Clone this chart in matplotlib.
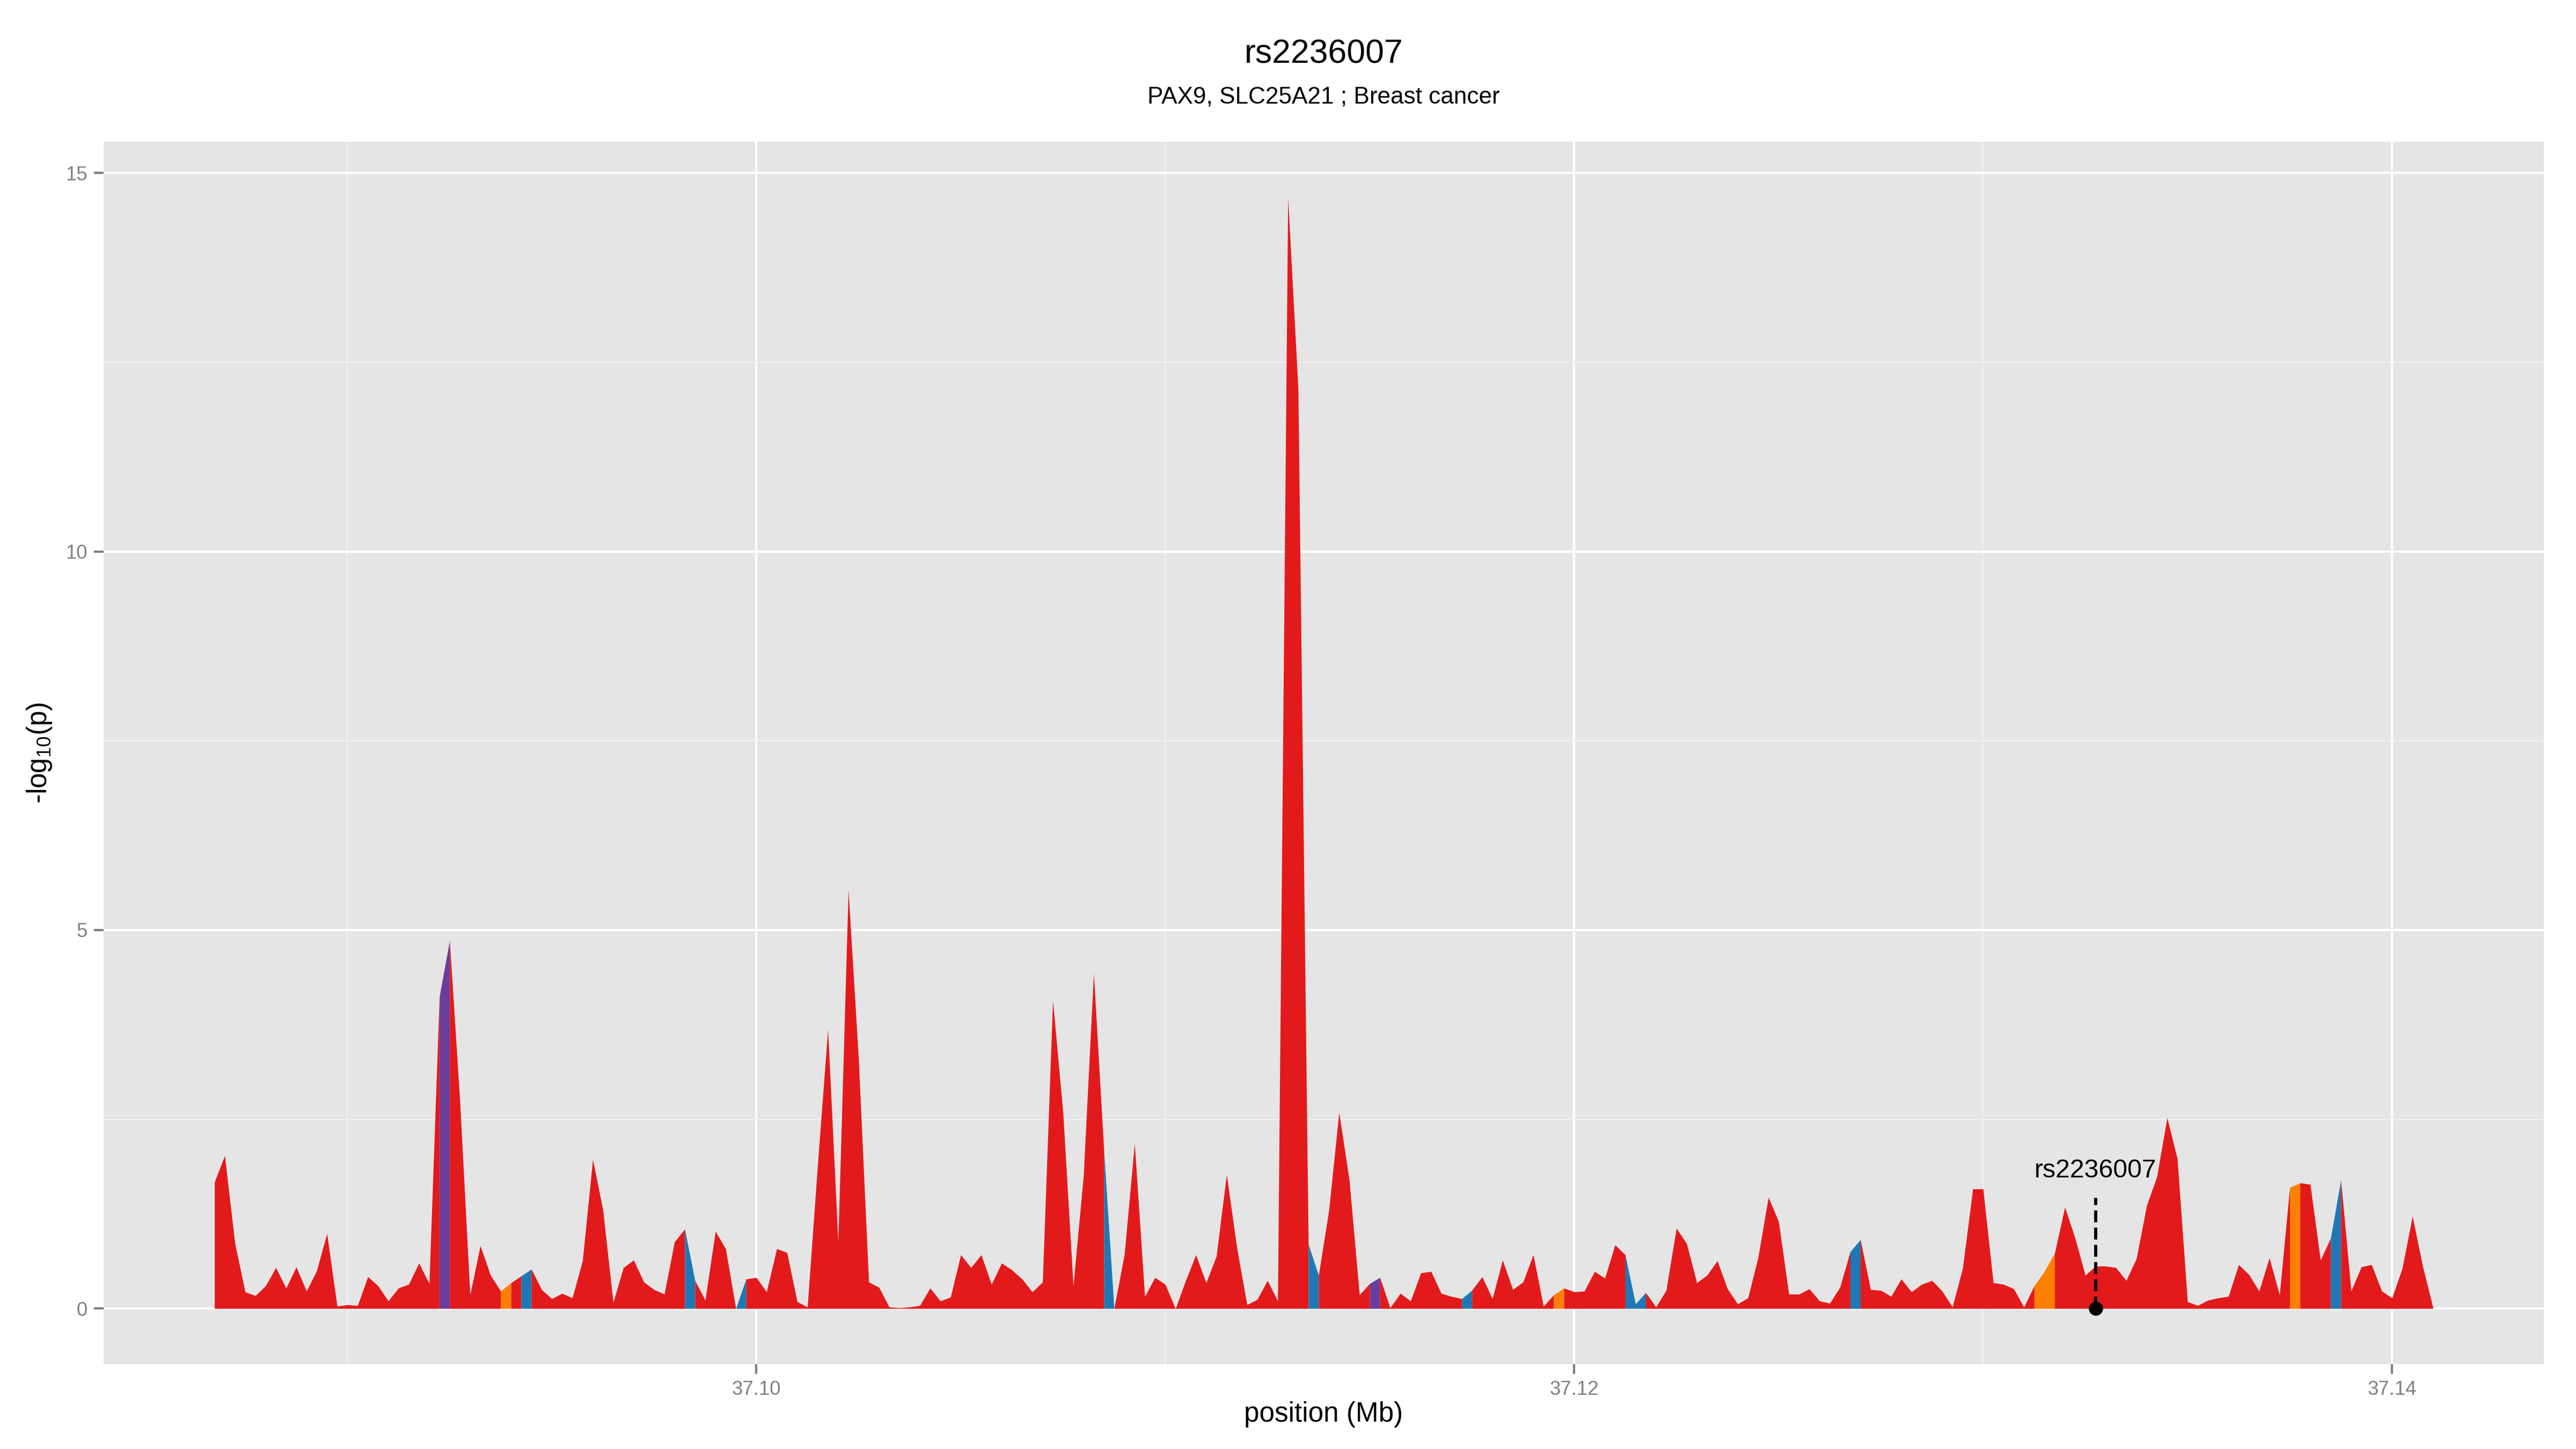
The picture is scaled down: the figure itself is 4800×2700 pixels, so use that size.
import numpy as np
import matplotlib.pyplot as plt
from matplotlib.ticker import FixedLocator

plt.rcParams['font.family'] = ['Liberation Sans', 'DejaVu Sans']
plt.rcParams['mathtext.default'] = 'regular'

# SNP grid (Mb): first position and spacing
pos_start = 37.08675
pos_step = 0.00025

# -log10(p) for each grid position
neglogp = [
    1.67, 2.02, 0.86, 0.22, 0.17, 0.30, 0.54, 0.27, 0.55, 0.23,
    0.50, 0.99, 0.03, 0.05, 0.04, 0.42, 0.30, 0.10, 0.27, 0.32,
    0.60, 0.33, 4.12, 4.86, 2.75, 0.18, 0.83, 0.44, 0.23, 0.34,
    0.43, 0.52, 0.25, 0.13, 0.20, 0.14, 0.63, 1.97, 1.30, 0.08,
    0.54, 0.64, 0.35, 0.25, 0.19, 0.88, 1.05, 0.37, 0.11, 1.02,
    0.79, 0.00, 0.39, 0.41, 0.22, 0.79, 0.74, 0.09, 0.02, 1.90,
    3.69, 0.88, 5.53, 3.30, 0.35, 0.28, 0.02, 0.01, 0.02, 0.04,
    0.27, 0.10, 0.15, 0.71, 0.54, 0.71, 0.32, 0.60, 0.51, 0.39,
    0.22, 0.35, 4.07, 2.59, 0.30, 1.75, 4.43, 2.09, 0.00, 0.71,
    2.18, 0.16, 0.41, 0.32, 0.00, 0.37, 0.71, 0.34, 0.69, 1.77,
    0.81, 0.05, 0.12, 0.37, 0.10, 14.68, 12.15, 0.85, 0.44, 1.29,
    2.59, 1.70, 0.18, 0.33, 0.41, 0.01, 0.20, 0.10, 0.47, 0.49,
    0.20, 0.16, 0.13, 0.24, 0.42, 0.13, 0.64, 0.25, 0.35, 0.71,
    0.03, 0.18, 0.27, 0.22, 0.23, 0.49, 0.40, 0.84, 0.71, 0.06,
    0.21, 0.02, 0.24, 1.06, 0.86, 0.34, 0.44, 0.63, 0.26, 0.06,
    0.14, 0.68, 1.47, 1.15, 0.19, 0.19, 0.26, 0.10, 0.07, 0.28,
    0.75, 0.91, 0.25, 0.24, 0.16, 0.39, 0.22, 0.32, 0.37, 0.23,
    0.02, 0.53, 1.58, 1.58, 0.34, 0.32, 0.26, 0.02, 0.30, 0.49,
    0.73, 1.34, 0.93, 0.44, 0.56, 0.56, 0.54, 0.37, 0.66, 1.36,
    1.74, 2.52, 1.98, 0.09, 0.04, 0.11, 0.14, 0.16, 0.58, 0.45,
    0.23, 0.67, 0.18, 1.60, 1.66, 1.64, 0.64, 0.93, 1.70, 0.23,
    0.55, 0.58, 0.23, 0.14, 0.53, 1.22, 0.56, 0.02,
]

# segments (left point index) that are not red
purple_idx = [22, 113]
orange_idx = [28, 131, 178, 179, 203]
blue_idx = [30, 46, 51, 87, 107, 122, 138, 139, 160, 207]

palette = {'red': '#E31A1C', 'blue': '#1F78B4',
           'orange': '#FF7F00', 'purple': '#6A3D9A'}

snp_name = 'rs2236007'
snp_pos = 37.13275
snp_line_top = 1.46
snp_label_y = 1.82

title = 'rs2236007'
subtitle = 'PAX9, SLC25A21 ; Breast cancer'

n = len(neglogp)
pos = pos_start + pos_step * np.arange(n)
y = np.array(neglogp)

seg = ['red'] * (n - 1)
for name, idx in (('purple', purple_idx), ('orange', orange_idx), ('blue', blue_idx)):
    for i in idx:
        seg[i] = name

fig = plt.figure(figsize=(16, 9), dpi=300)
ax = fig.add_axes([0.0402, 0.0586, 0.9473, 0.8436])
ax.set_facecolor('#E5E5E5')
for s in ax.spines.values():
    s.set_visible(False)

# draw runs of equally coloured segments
s = 0
for j in range(1, n):
    if j == n - 1 or seg[j] != seg[s]:
        ax.fill_between(pos[s:j + 1], 0, y[s:j + 1], color=palette[seg[s]],
                        linewidth=0, zorder=2)
        s = j

# highlighted SNP
ax.plot([snp_pos, snp_pos], [0, snp_line_top], color='black', lw=1.4,
        linestyle=(0, (3.8, 1.7)), zorder=3)
ax.plot([snp_pos], [0], 'o', color='black', ms=5.3, zorder=4)
ax.text(snp_pos, snp_label_y, snp_name, ha='center', va='center',
        fontsize=11.6, zorder=4)

xr = pos[-1] - pos[0]
ax.set_xlim(pos[0] - 0.05 * xr, pos[-1] + 0.05 * xr)
ax.set_ylim(-0.05 * y.max(), 1.05 * y.max())

ax.xaxis.set_major_locator(FixedLocator([37.10, 37.12, 37.14]))
ax.xaxis.set_minor_locator(FixedLocator([37.09, 37.11, 37.13]))
ax.yaxis.set_major_locator(FixedLocator([0, 5, 10, 15]))
ax.yaxis.set_minor_locator(FixedLocator([2.5, 7.5, 12.5]))
ax.set_xticklabels(['37.10', '37.12', '37.14'])
ax.set_yticklabels(['0', '5', '10', '15'])

ax.grid(which='major', color='white', lw=1.0, zorder=0)
ax.grid(which='minor', color='#F2F2F2', lw=0.5, zorder=0)
ax.set_axisbelow(True)
ax.tick_params(which='major', length=4.25, width=1.0, color='#7F7F7F',
               labelcolor='#7F7F7F', labelsize=8.8, pad=3)
ax.tick_params(which='minor', length=0)

cx = 0.0402 + 0.9473 / 2
fig.text(cx, 1 - 101 / 2700, title, ha='center', va='center', fontsize=15)
fig.text(cx, 1 - 181 / 2700, subtitle, ha='center', va='center', fontsize=10.6)
fig.text(cx, 1 - 2636 / 2700, 'position (Mb)', ha='center', va='center', fontsize=12.3)
fig.text(73 / 4800, 0.0586 + 0.8436 / 2, '-log$_{10}$(p)', ha='center', va='center',
         rotation=90, fontsize=12.3)

fig.savefig('out.png', dpi=300)
